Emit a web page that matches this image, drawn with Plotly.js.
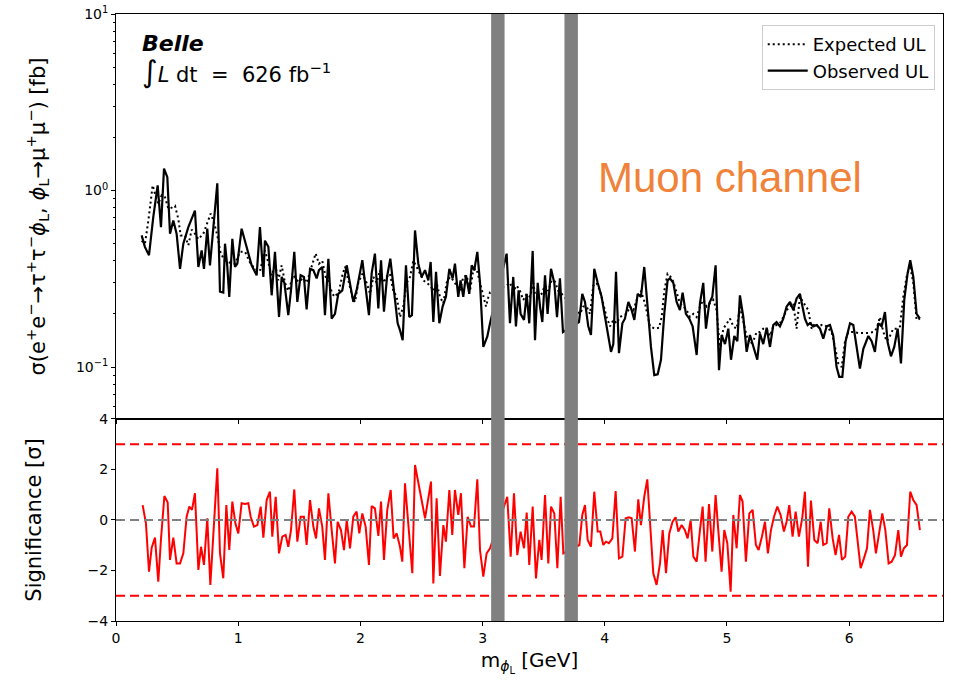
<!DOCTYPE html>
<html><head><meta charset="utf-8">
<script src="https://cdn.plot.ly/plotly-3.0.1.min.js"></script>
<style>html,body{margin:0;padding:0;background:#fff;}#chart{width:956px;height:683px;}</style>
</head><body><div id="chart"></div>
<script>
// Observed upper limit (fb) vs mass (GeV)
const obsMass = [0.210,0.237,0.270,0.305,0.341,0.368,0.393,0.420,0.442,0.469,0.496,0.524,0.551,0.592,0.646,0.674,0.701,0.720,0.747,0.769,0.797,0.829,0.851,0.878,0.892,0.911,0.927,0.952,0.974,0.993,1.028,1.069,1.110,1.151,1.178,1.206,
1.219,1.247,1.274,1.301,1.334,1.356,1.378,1.410,1.432,1.459,1.484,1.511,1.538,1.560,1.588,1.615,1.642,1.661,1.688,1.710,1.738,1.765,1.792,1.819,1.852,1.888,1.915,1.942,1.969,2.016,2.038,2.070,2.092,2.119,2.147,2.169,2.193,2.218,2.245,2.269,2.305,
2.324,2.346,2.373,2.400,2.422,2.447,2.474,2.501,2.529,2.556,2.575,2.597,2.619,2.646,2.673,2.700,2.728,2.755,2.774,2.801,2.820,2.842,2.864,2.891,2.911,2.932,2.957,2.979,3.006,3.039,3.061,3.197,3.224,3.251,3.273,3.295,3.311,3.339,3.361,3.382,3.410,
3.429,3.451,3.470,3.489,3.511,3.532,3.560,3.587,3.609,3.633,3.658,3.789,3.816,3.838,3.865,3.887,3.914,3.942,3.974,4.002,4.029,4.051,4.070,4.092,4.116,4.144,4.165,4.193,4.220,4.242,4.269,4.296,4.323,4.351,4.378,4.405,4.433,4.460,4.487,4.514,
4.533,4.561,4.588,4.615,4.637,4.664,4.692,4.719,4.752,4.779,4.806,4.828,4.855,4.880,4.907,4.935,4.956,4.984,5.011,5.033,5.060,5.085,5.106,5.134,5.161,5.188,5.215,5.248,5.270,5.297,5.325,5.352,5.379,5.406,5.434,5.461,5.488,5.516,5.543,5.570,5.597,5.619,
5.638,5.660,5.679,5.706,5.734,5.761,5.788,5.816,5.843,5.870,5.897,5.919,5.944,5.971,6.007,6.034,6.061,6.088,6.116,6.157,6.184,6.211,6.238,6.266,6.293,6.315,6.342,6.369,6.397,6.424,6.451,6.478,6.500,6.525,6.552,6.579];
const obsUL = [0.557,0.478,0.43,0.706,1.07,0.62,1.33,1.19,0.57,0.677,0.57,0.36,0.5,0.62,0.77,0.369,0.458,0.36,0.608,0.377,0.62,1.1,0.267,0.264,0.5,0.369,0.25,0.533,0.369,0.385,0.608,0.478,0.377,0.331,0.62,0.324,
0.52,0.48,0.255,0.449,0.192,0.324,0.3,0.197,0.272,0.449,0.234,0.331,0.324,0.212,0.36,0.354,0.318,0.354,0.369,0.197,0.411,0.188,0.2,0.26,0.272,0.377,0.3,0.234,0.272,0.403,0.3,0.197,0.338,0.439,0.215,0.403,0.206,0.324,0.411,0.3,0.177,
0.162,0.142,0.377,0.192,0.197,0.594,0.385,0.324,0.354,0.31,0.394,0.18,0.346,0.177,0.22,0.25,0.36,0.318,0.385,0.25,0.31,0.25,0.331,0.26,0.377,0.354,0.449,0.3,0.13,0.149,0.177,0.439,0.177,0.324,0.17,0.272,0.2,0.185,0.26,0.177,0.455,
0.142,0.3,0.22,0.18,0.331,0.2,0.36,0.3,0.192,0.318,0.158,0.18,0.26,0.234,0.17,0.152,0.36,0.3,0.25,0.192,0.152,0.122,0.135,0.346,0.12,0.177,0.188,0.234,0.21,0.185,0.26,0.25,0.369,0.22,0.13,0.09,0.091,0.11,0.2,0.31,
0.318,0.3,0.234,0.21,0.264,0.2,0.188,0.17,0.117,0.23,0.3,0.165,0.23,0.25,0.377,0.096,0.152,0.135,0.165,0.11,0.15,0.14,0.255,0.192,0.122,0.152,0.132,0.11,0.155,0.135,0.167,0.13,0.173,0.18,0.17,0.188,0.22,0.234,0.21,0.245,0.26,0.22,
0.188,0.173,0.177,0.17,0.173,0.165,0.145,0.17,0.173,0.15,0.1,0.088,0.088,0.14,0.177,0.173,0.13,0.098,0.127,0.15,0.14,0.122,0.177,0.17,0.205,0.138,0.115,0.13,0.165,0.105,0.24,0.338,0.403,0.324,0.2,0.188];

// Expected upper limit (fb)
const expMass = [0.210,0.237,0.265,0.284,0.300,0.319,0.346,0.374,0.401,0.428,0.456,0.483,0.510,0.529,0.565,0.592,0.619,0.646,0.674,0.715,0.747,0.775,0.802,0.829,0.857,0.892,0.933,0.974,1.015,1.056,1.097,1.137,1.178,
1.219,1.247,1.274,1.301,1.328,1.356,1.383,1.410,1.451,1.492,1.533,1.560,1.588,1.615,1.634,1.661,1.688,1.716,1.743,1.770,1.792,1.825,1.852,1.874,1.901,1.934,1.956,1.983,2.016,2.051,2.079,2.106,2.133,2.160,2.188,2.215,2.242,2.269,2.297,
2.324,2.351,2.379,2.406,2.433,2.460,2.488,2.515,2.542,2.570,2.597,2.624,2.651,2.679,2.706,2.733,2.760,2.788,2.815,2.842,2.870,2.897,2.924,2.951,2.979,3.006,3.028,3.048,3.061,3.197,3.224,3.251,3.279,3.306,3.333,3.361,3.388,3.415,
3.429,3.456,3.483,3.511,3.538,3.565,3.592,3.620,3.647,3.797,3.824,3.852,3.879,3.906,3.933,3.961,3.988,4.015,4.043,4.070,4.097,4.124,4.152,4.179,4.206,4.234,4.261,4.296,4.329,4.370,4.411,4.444,4.466,4.487,4.514,
4.533,4.561,4.588,4.615,4.643,4.670,4.697,4.725,4.752,4.779,4.806,4.834,4.861,4.888,4.915,4.943,4.970,4.997,5.025,5.052,5.079,5.106,5.134,5.161,5.188,5.215,5.243,5.270,5.297,5.325,5.352,5.379,5.406,5.434,5.461,5.488,5.516,5.543,5.570,5.597,
5.638,5.666,5.693,5.720,5.748,5.775,5.802,5.830,5.857,5.884,5.911,5.939,5.966,5.993,6.034,6.075,6.116,6.157,6.197,6.225,6.252,6.280,6.307,6.334,6.361,6.389,6.416,6.443,6.470,6.497,6.525,6.552,6.579];
const expUL = [0.52,0.50,0.677,0.84,1.07,0.96,0.84,0.94,0.917,0.79,0.80,0.82,0.69,0.557,0.557,0.49,0.60,0.57,0.53,0.57,0.66,0.74,0.66,0.557,0.44,0.40,0.39,0.385,0.45,0.45,0.39,0.36,0.35,
0.458,0.39,0.33,0.385,0.31,0.377,0.30,0.27,0.33,0.305,0.318,0.30,0.346,0.40,0.44,0.385,0.40,0.324,0.30,0.26,0.25,0.27,0.33,0.37,0.31,0.25,0.234,0.30,0.338,0.30,0.26,0.324,0.30,0.354,0.30,0.324,0.338,0.27,0.25,
0.192,0.22,0.30,0.324,0.40,0.37,0.338,0.31,0.30,0.29,0.27,0.30,0.25,0.23,0.30,0.324,0.31,0.29,0.27,0.324,0.33,0.27,0.354,0.36,0.30,0.25,0.22,0.25,0.265,0.29,0.30,0.27,0.29,0.27,0.24,0.26,0.25,0.30,
0.26,0.25,0.26,0.29,0.27,0.31,0.305,0.27,0.26,0.20,0.22,0.22,0.20,0.29,0.30,0.27,0.23,0.192,0.17,0.185,0.177,0.192,0.197,0.20,0.22,0.21,0.24,0.27,0.23,0.17,0.165,0.167,0.192,0.27,0.338,
0.33,0.305,0.26,0.23,0.22,0.21,0.192,0.20,0.192,0.22,0.24,0.22,0.23,0.24,0.21,0.125,0.165,0.177,0.188,0.17,0.165,0.22,0.177,0.15,0.135,0.14,0.158,0.158,0.165,0.165,0.15,0.17,0.173,0.177,0.192,0.21,0.22,0.23,0.165,0.25,
0.225,0.21,0.165,0.177,0.17,0.173,0.173,0.165,0.158,0.13,0.105,0.10,0.14,0.158,0.158,0.156,0.156,0.156,0.158,0.165,0.192,0.158,0.14,0.15,0.165,0.165,0.17,0.25,0.324,0.377,0.30,0.185,0.188];

// Local significance (sigma)
const sigMass = [0.218,0.245,0.270,0.292,0.319,0.346,0.368,0.396,0.423,0.442,0.469,0.496,0.524,0.551,0.578,0.600,0.622,0.646,0.674,0.696,0.720,0.747,0.772,0.797,0.829,0.851,0.878,0.903,0.927,0.952,0.977,1.001,1.028,1.056,1.083,1.102,1.129,1.157,1.184,1.206,1.233,1.260,
1.279,1.307,1.334,1.361,1.388,1.410,1.432,1.459,1.484,1.511,1.538,1.560,1.588,1.615,1.637,1.661,1.688,1.710,1.738,1.765,1.792,1.814,1.841,1.866,1.888,1.915,1.942,1.969,1.991,2.016,2.043,2.070,2.092,2.119,2.147,2.169,2.193,2.220,2.248,2.272,2.297,2.324,2.343,2.365,
2.425,2.447,2.474,2.501,2.529,2.556,2.578,2.597,2.624,2.651,2.679,2.700,2.728,2.752,2.774,2.801,2.823,2.851,2.878,2.905,2.930,2.957,2.979,3.006,3.033,3.061,3.202,3.230,3.257,3.284,3.311,3.339,3.361,3.382,3.410,3.437,3.464,
3.483,3.511,3.538,3.560,3.587,3.612,3.639,3.661,3.792,3.816,3.838,3.860,3.887,3.914,3.942,3.963,3.988,4.010,4.034,4.062,4.089,4.116,4.144,4.171,4.198,4.220,4.247,4.274,4.296,4.323,4.348,4.370,4.397,4.424,4.452,4.474,4.501,4.528,4.555,
4.580,4.602,4.629,4.656,4.678,4.703,4.725,4.752,4.779,4.801,4.825,4.853,4.880,4.907,4.929,4.956,4.978,5.003,5.030,5.052,5.079,5.106,5.128,5.155,5.183,5.210,5.237,5.259,5.286,5.311,5.335,5.360,5.385,5.412,5.439,5.466,5.488,5.510,5.537,5.562,5.589,5.616,5.638,5.663,
5.687,5.715,5.742,5.767,5.788,5.816,5.837,5.865,5.889,5.917,5.941,5.968,5.993,6.020,6.047,6.069,6.094,6.121,6.146,6.170,6.197,6.219,6.244,6.271,6.296,6.323,6.348,6.375,6.402,6.424,6.448,6.473,6.500,6.525,6.552,6.579];
const sigValue = [0.59,-0.13,-2.05,-1.1,-0.7,-2.44,-0.76,0.95,0.69,-1.58,-0.7,-1.72,-1.72,-1.32,0.13,0.53,0.40,1.06,-1.98,-1.06,-1.78,0.07,-2.57,-0.4,2.05,-1.32,-2.31,0.59,-1.19,0.73,-0.13,-0.53,0.66,0.63,0.66,0.13,-0.26,-0.2,0.53,-0.7,0.79,1.12,
-0.66,0.92,-1.32,-0.66,-0.59,-1.06,-0.40,1.21,-0.86,0.13,0.13,-0.99,0.79,-0.26,-0.73,0.46,-0.26,-1.58,1.06,-0.40,-1.72,-0.07,-0.40,-1.19,0,-1.12,0.13,0.33,-0.53,0.26,-0.26,-1.78,0.55,0.46,-0.63,0.73,-1.58,0.40,1.19,-0.73,-0.53,-1.06,-1.65,1.45,
-2.11,2.18,1.45,0.73,0.07,0.86,1.52,-2.51,0.86,-2.22,-0.20,-0.86,1.19,-0.59,1.19,0.20,1.06,-1.91,0.13,-0.26,-0.26,1.61,-1.19,-2.24,-1.32,-1.12,0.92,-1.45,1.06,-1.39,-0.46,-1.12,0.29,-1.78,0.53,-2.31,-0.79,
-1.58,0.99,-1.72,0.53,0.26,-1.91,0.92,-1.32,-0.99,0.20,0.59,-0.79,-1.06,1.12,-0.46,-0.46,-0.99,-0.86,-0.92,-0.73,1.15,-1.52,-1.45,0.07,0.11,0.07,-1.25,0.82,-0.20,0.92,1.61,0,-2.11,-2.57,-1.72,-0.40,-2.11,-0.53,-0.07,
0.11,-0.46,-0.20,-0.40,-0.73,0,-1.45,-1.65,-0.40,0.53,-1.65,0.63,-1.25,0.99,-0.40,-2.05,-0.40,-0.92,-2.84,0.20,-1.12,0.99,0.73,-1.65,0.26,0.40,-0.99,-1.19,-0.66,-0.07,-1.32,-0.40,0.13,0.53,0.20,-0.46,-0.07,0.59,-0.66,0.33,-0.66,0.07,1.12,-1.85,
0.77,-0.79,-0.92,-0.07,-0.99,-0.92,0.46,-0.73,-1.39,-0.59,-1.58,-1.45,0.13,0.33,0.13,-0.79,-1.91,-1.52,-1.12,0.40,-0.40,-1.32,-0.46,0.26,-0.40,-1.72,-1.65,-1.39,-0.40,-1.45,-1.12,-0.99,1.12,0.79,0.59,-0.40];

// Vetoed charmonium regions (GeV)
const vetoBands = [[3.07, 3.18], [3.67, 3.78]];
const sigRefLines = [3, -3];

const FONT = 'DejaVu Sans, sans-serif';
const traces = [
  {x: expMass, y: expUL, type: 'scatter', mode: 'lines', name: 'Expected UL',
   line: {color: 'black', width: 2, dash: '2px,3px'}, xaxis: 'x', yaxis: 'y'},
  {x: obsMass, y: obsUL, type: 'scatter', mode: 'lines', name: 'Observed UL',
   line: {color: 'black', width: 2.2}, xaxis: 'x', yaxis: 'y'},
  {x: sigMass, y: sigValue, type: 'scatter', mode: 'lines', showlegend: false,
   line: {color: '#ff0000', width: 2}, xaxis: 'x2', yaxis: 'y2'}
];

const shapes = [];
sigRefLines.forEach(v => shapes.push({type: 'line', xref: 'paper', x0: 0, x1: 1, yref: 'y2', y0: v, y1: v,
  line: {color: '#ff0000', width: 2, dash: '9px,5px'}, layer: 'above'}));
shapes.push({type: 'line', xref: 'paper', x0: 0, x1: 1, yref: 'y2', y0: 0, y1: 0,
  line: {color: '#808080', width: 2, dash: '9px,5px'}, layer: 'above'});
vetoBands.forEach(b => shapes.push({type: 'rect', xref: 'x2', x0: b[0], x1: b[1], yref: 'paper', y0: 0, y1: 1,
  fillcolor: '#808080', line: {width: 0}, layer: 'above'}));

const axisCommon = {showline: true, linecolor: 'black', linewidth: 1, mirror: true, ticks: 'outside',
  ticklen: 4, tickwidth: 1, tickcolor: 'black', showgrid: false, zeroline: false,
  tickfont: {family: FONT, size: 14, color: 'black'}};

const split = 0.3328;
const layout = {
  width: 956, height: 683,
  margin: {l: 116, r: 13, t: 14, b: 62},
  paper_bgcolor: 'white', plot_bgcolor: 'white',
  font: {family: FONT, color: 'black'},
  showlegend: true,
  legend: {x: 0.990, y: 0.982, xanchor: 'right', yanchor: 'top', bgcolor: 'white', itemwidth: 40,
    bordercolor: '#cccccc', borderwidth: 1, font: {family: FONT, size: 18, color: 'black'}, tracegroupgap: 0},
  xaxis: Object.assign({}, axisCommon, {domain: [0, 1], anchor: 'y', range: [0, 6.768], matches: 'x2',
    showticklabels: false, dtick: 1, tick0: 0}),
  yaxis: Object.assign({}, axisCommon, {domain: [split, 1], anchor: 'x', type: 'log', range: [Math.log10(0.0508), 1],
    tickmode: 'array', tickvals: [0.1, 1, 10], ticktext: ['10<sup>−1</sup>', '10<sup>0</sup>', '10<sup>1</sup>'],
    minor: {ticks: 'outside', ticklen: 2, tickcolor: 'black', tickmode: 'array',
      tickvals: [0.06,0.07,0.08,0.09,0.2,0.3,0.4,0.5,0.6,0.7,0.8,0.9,2,3,4,5,6,7,8,9]},
    title: {text: 'σ(e<sup>+</sup>e<sup>−</sup>→τ<sup>+</sup>τ<sup>−</sup><i>ϕ</i><sub>L</sub>, <i>ϕ</i><sub>L</sub>→μ<sup>+</sup>μ<sup>−</sup>) [fb]',
      font: {family: FONT, size: 21, color: 'black'}, standoff: 24}}),
  xaxis2: Object.assign({}, axisCommon, {domain: [0, 1], anchor: 'y2', range: [0, 6.768], dtick: 1, tick0: 0,
    title: {text: 'm<sub><i>ϕ</i><sub>L</sub></sub> [GeV]', font: {family: FONT, size: 20, color: 'black'}, standoff: 8}}),
  yaxis2: Object.assign({}, axisCommon, {domain: [0, split], anchor: 'x2', range: [-4, 4],
    tickmode: 'array', tickvals: [-4, -2, 0, 2, 4],
    title: {text: 'Significance [σ]', font: {family: FONT, size: 21, color: 'black'}, standoff: 40}}),
  shapes: shapes,
  annotations: [
    {xref: 'paper', yref: 'paper', x: 0.029, y: 0.952, xanchor: 'left', yanchor: 'middle', showarrow: false,
     text: '<b><i>Belle</i></b>', font: {family: FONT, size: 22, color: 'black'}},
    {xref: 'paper', yref: 'paper', x: 0.029, y: 0.905, xanchor: 'left', yanchor: 'middle', showarrow: false,
     text: '<span style="font-size:30px">∫</span><i>L</i> dt  =  626 fb<sup>−1</sup>', font: {family: FONT, size: 21, color: 'black'}},
    {xref: 'paper', yref: 'paper', x: 0.742, y: 0.731, xanchor: 'center', yanchor: 'middle', showarrow: false,
     text: 'Muon channel', font: {family: 'Liberation Sans, Arial, sans-serif', size: 42, color: '#f0823a'}}
  ]
};

Plotly.newPlot('chart', traces, layout, {displayModeBar: false, staticPlot: true});
</script>
</body></html>
